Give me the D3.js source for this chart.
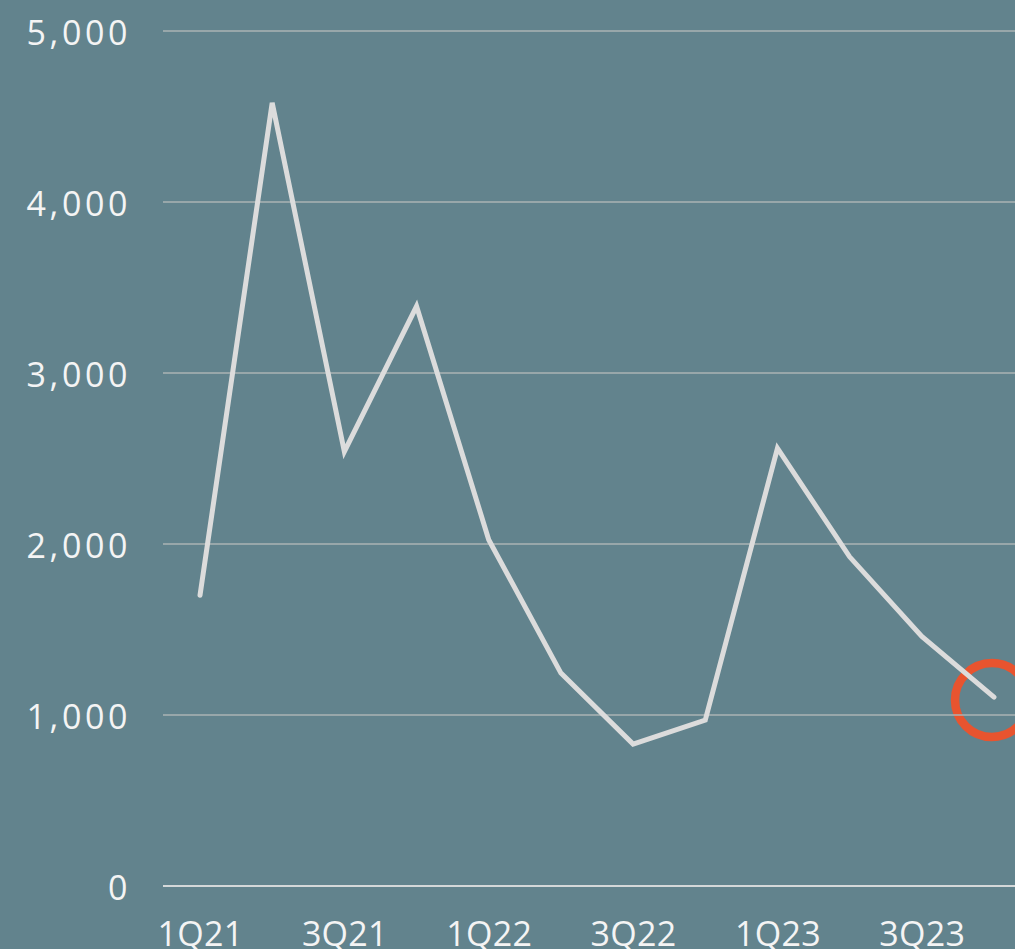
<!DOCTYPE html>
<html><head><meta charset="utf-8">
<script src="https://cdn.jsdelivr.net/npm/d3@7"></script>
<style>html,body{margin:0;padding:0;background:#62838D;overflow:hidden}</style>
</head><body>
<svg id="c" width="1015" height="949"></svg>
<script>
const quarters = ["1Q21","2Q21","3Q21","4Q21","1Q22","2Q22","3Q22","4Q22","1Q23","2Q23","3Q23","4Q23"];
const values = [1700,4580,2540,3390,2025,1245,830,970,2560,1925,1460,1105];
const yTicks = [0,1000,2000,3000,4000,5000];
const xLabels = ["1Q21","3Q21","1Q22","3Q22","1Q23","3Q23"];
const highlight = "4Q23";

const svg = d3.select("#c");
const W = 1015, H = 949;
const x = d3.scalePoint().domain(quarters).range([200, 994]);
const y = d3.scaleLinear().domain([0,5000]).range([886, 31]);
const font = "'Open Sans', sans-serif";

svg.append("rect").attr("width",W).attr("height",H).attr("fill","#62838D");

// highlight circle
svg.append("circle")
  .attr("cx", x(highlight)-2).attr("cy", y(values[quarters.indexOf(highlight)])+3)
  .attr("r", 37).attr("fill","none").attr("stroke","#E8542F").attr("stroke-width",8.5);

// y axis labels
const ya = d3.axisLeft(y).tickValues(yTicks).tickSize(0).tickFormat(d3.format(","));
const gy = svg.append("g").attr("transform","translate(131,0)").call(ya);
gy.select(".domain").remove();
gy.selectAll("text").attr("font-family",font).attr("font-size",34).attr("fill","#F4F4F4")
  .attr("x",0).attr("dy","0.41em").attr("letter-spacing",3.6);

// gridlines
svg.append("g").selectAll("line").data(yTicks).join("line")
  .attr("x1",163).attr("x2",W).attr("y1",d=>y(d)).attr("y2",d=>y(d))
  .attr("stroke",d=>d===0?"#D4D8D9":"#ABB3B5").attr("stroke-width",d=>d===0?2:1.5);

// x axis labels
const xa = d3.axisBottom(x).tickValues(xLabels).tickSize(0);
const gx = svg.append("g").attr("transform","translate(0,886)").call(xa);
gx.select(".domain").remove();
gx.selectAll("text").attr("font-family",font).attr("font-size",34).attr("fill","#F4F4F4")
  .attr("y",60).attr("dy",0).attr("letter-spacing",0.3);

// line
const line = d3.line().x((d,i)=>x(quarters[i])).y(d=>y(d));
svg.append("path").datum(values).attr("d",line).attr("fill","none")
  .attr("stroke","#DCDCDC").attr("stroke-width",5).attr("stroke-linecap","round").attr("stroke-linejoin","miter");
</script>
</body></html>
